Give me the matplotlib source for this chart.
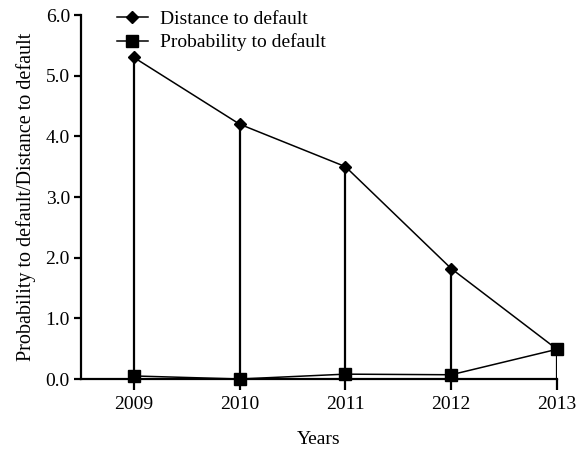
import numpy as np
import matplotlib.pyplot as plt

plt.rcParams['font.family'] = ['Liberation Serif', 'DejaVu Serif']
plt.rcParams['mathtext.fontset'] = 'stix'

# data
years = [2009, 2010, 2011, 2012, 2013]
distance = [5.30, 4.20, 3.50, 1.82, 0.49]
probability = [0.05, 0.00, 0.08, 0.07, 0.49]
ytick_vals = [0, 1, 2, 3, 4, 5, 6]

fig = plt.figure(figsize=(5.79, 4.51), dpi=100)
ax = fig.add_axes([81 / 579, 1 - 379 / 451, (557 - 81) / 579, (379 - 15) / 451])

# drop lines from distance points to the axis
ax.vlines(years, 0, distance, colors='black', lw=1.6, zorder=2)

ax.plot(years, distance, color='black', lw=1.1, marker='D', markersize=6.5,
        label='Distance to default', clip_on=False, zorder=3)
ax.plot(years, probability, color='black', lw=1.1, marker='s', markersize=8,
        label='Probability to default', clip_on=False, zorder=3)

ax.set_xlim(2008.5, 2013)
ax.set_ylim(0, 6)
ax.set_xticks(years)
ax.set_xticklabels([str(y) for y in years])
ax.set_yticks(ytick_vals)
ax.set_yticklabels([f'{v:.1f}' for v in ytick_vals])

for s in ['top', 'right']:
    ax.spines[s].set_visible(False)
for s in ['left', 'bottom']:
    ax.spines[s].set_linewidth(1.6)

ax.tick_params(axis='y', direction='out', length=5, width=1.6, labelsize=14, pad=3)
ax.tick_params(axis='x', direction='out', length=8, width=1.6, labelsize=14, pad=4)

ax.set_xlabel('Years', fontsize=14, labelpad=13)
ax.set_ylabel('Probability to default/Distance to default', fontsize=14.5, labelpad=7)

ax.legend(loc='upper left', bbox_to_anchor=(0.055, 1.04), frameon=False, fontsize=14,
          handlelength=1.6, handletextpad=0.6, borderpad=0, labelspacing=0.3)

fig.savefig('out.png', dpi=100)
